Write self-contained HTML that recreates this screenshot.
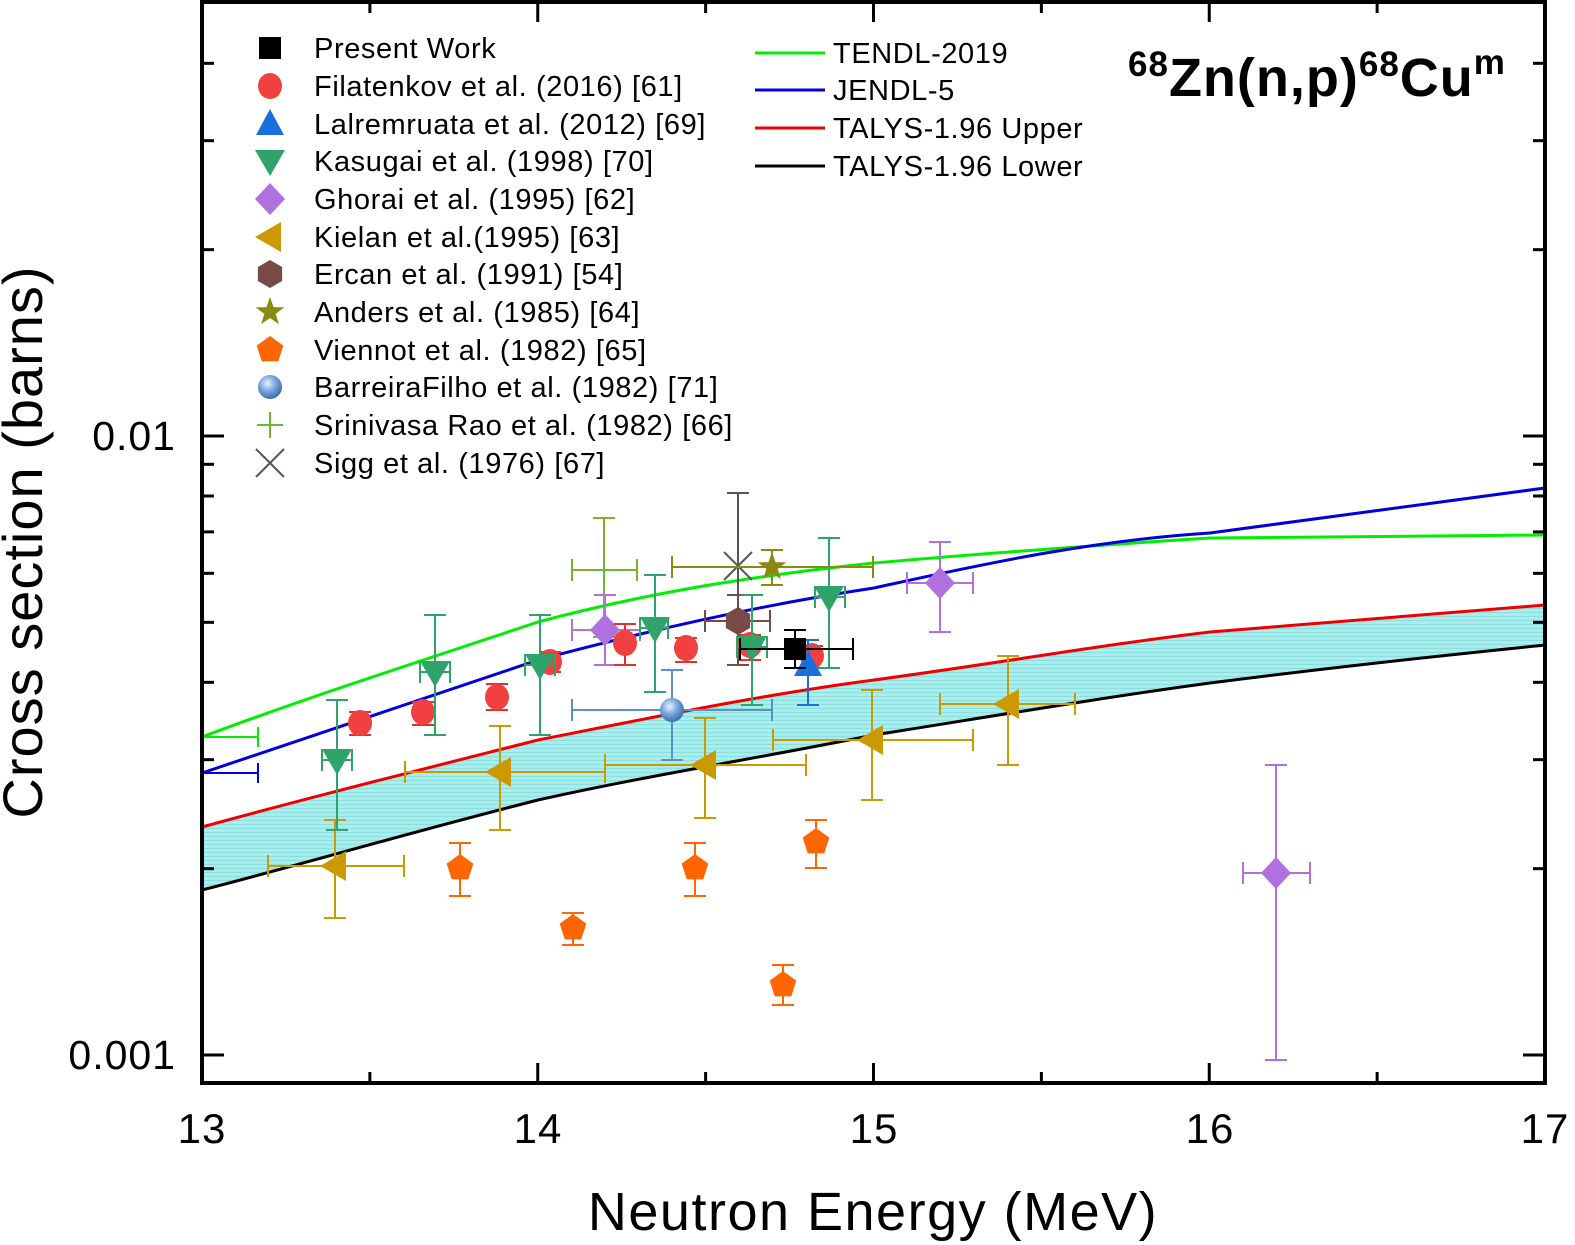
<!DOCTYPE html>
<html><head><meta charset="utf-8"><style>
html,body{margin:0;padding:0;background:#fff;}
svg{display:block;font-family:"Liberation Sans",Arial,sans-serif;}
</style></head><body>
<svg id="s" width="1575" height="1245" viewBox="0 0 1575 1245" xmlns="http://www.w3.org/2000/svg">
<defs>
<pattern id="hatch" width="4" height="4" patternUnits="userSpaceOnUse">
<rect width="4" height="4" fill="#a8eeee"/><rect width="4" height="1" fill="#8fdede"/>
</pattern>
<radialGradient id="sph" cx="0.4" cy="0.35" r="0.65"><stop offset="0" stop-color="#e8f2ff"/><stop offset="0.5" stop-color="#7aa8dc"/><stop offset="1" stop-color="#3d6fae"/></radialGradient>
</defs>
<path d="M202,827 C300,800 400,775 538,740 C650,718 760,695 874,680 C1000,663 1100,645 1210,632 C1350,620 1450,612 1545,605 L1545,645 C1450,655 1350,665 1210,683 C1100,698 1000,715 874,735 C760,758 650,775 538,800 C400,835 300,865 202,890 Z" fill="url(#hatch)"/>
<g fill="none" stroke-width="3">
<path d="M202,737 C300,700 400,668 538,622 C650,592 760,575 874,563 C1000,552 1100,545 1210,538 C1350,537 1450,536 1545,535" stroke="#00ee00"/>
<path d="M202,773 C300,740 420,700 538,660 C650,630 760,605 874,588 C1000,560 1100,540 1210,533 C1350,515 1450,500 1545,488" stroke="#0000dd"/>
<path d="M202,827 C300,800 400,775 538,740 C650,718 760,695 874,680 C1000,663 1100,645 1210,632 C1350,620 1450,612 1545,605" stroke="#ee0000"/>
<path d="M202,890 C300,865 400,835 538,800 C650,775 760,758 874,735 C1000,715 1100,698 1210,683 C1350,665 1450,655 1545,645" stroke="#000"/>
</g>
<g stroke-width="2" fill="none">
<path d="M202,737H258M258,727V747" stroke="#00ee00"/>
<path d="M202,773H258M258,763V783" stroke="#0000dd"/>
</g>
<g id="pts"></g>
<rect x="202" y="2" width="1343" height="1081" fill="none" stroke="#000" stroke-width="4"/>
<g id="ticks" stroke="#000" stroke-width="3"></g>
<g font-size="41" text-anchor="end" fill="#000" letter-spacing="1">
<text x="176" y="450">0.01</text>
<text x="176" y="1069">0.001</text>
</g>
<g font-size="42" text-anchor="middle" fill="#000" letter-spacing="1">
<text x="202" y="1143">13</text><text x="538" y="1143">14</text><text x="874" y="1143">15</text><text x="1210" y="1143">16</text><text x="1545" y="1143">17</text>
</g>
<text x="873" y="1230" font-size="54" text-anchor="middle" letter-spacing="1.5">Neutron Energy (MeV)</text>
<text transform="translate(42,542) rotate(-90)" font-size="56" text-anchor="middle" letter-spacing="1">Cross section (barns)</text>
<text x="1128" y="96" font-size="54" font-weight="bold" letter-spacing="1"><tspan font-size="35" dy="-20">68</tspan><tspan dy="20">Zn(n,p)</tspan><tspan font-size="35" dy="-20">68</tspan><tspan dy="20">Cu</tspan><tspan font-size="35" dy="-22">m</tspan></text>
<g font-size="29" fill="#000" letter-spacing="0.6">
<text x="314" y="58">Present Work</text>
<text x="314" y="96">Filatenkov et al. (2016) [61]</text>
<text x="314" y="134">Lalremruata et al. (2012) [69]</text>
<text x="314" y="171">Kasugai et al. (1998) [70]</text>
<text x="314" y="209">Ghorai et al. (1995) [62]</text>
<text x="314" y="247">Kielan et al.(1995) [63]</text>
<text x="314" y="284">Ercan et al. (1991) [54]</text>
<text x="314" y="322">Anders et al. (1985) [64]</text>
<text x="314" y="360">Viennot et al. (1982) [65]</text>
<text x="314" y="397">BarreiraFilho et al. (1982) [71]</text>
<text x="314" y="435">Srinivasa Rao et al. (1982) [66]</text>
<text x="314" y="473">Sigg et al. (1976) [67]</text>
<text x="833" y="63">TENDL-2019</text>
<text x="833" y="100">JENDL-5</text>
<text x="833" y="138">TALYS-1.96 Upper</text>
<text x="833" y="176">TALYS-1.96 Lower</text>
</g>
<g stroke-width="3">
<line x1="755" y1="53" x2="825" y2="53" stroke="#00ee00"/>
<line x1="755" y1="90" x2="825" y2="90" stroke="#0000dd"/>
<line x1="755" y1="128" x2="825" y2="128" stroke="#ee0000"/>
<line x1="755" y1="166" x2="825" y2="166" stroke="#000"/>
</g>
<g id="leg"></g>
</svg>
<script>
const NS="http://www.w3.org/2000/svg";
function el(p,t,a){const e=document.createElementNS(NS,t);for(const k in a)e.setAttribute(k,a[k]);p.appendChild(e);return e;}
const T=document.getElementById('ticks');
function ly(v){return 436-619*Math.log10(v/0.01);}
[0.002,0.003,0.004,0.005,0.006,0.007,0.008,0.009,0.02,0.03,0.04].forEach(v=>{const y=ly(v);el(T,'line',{x1:202,x2:214,y1:y,y2:y});el(T,'line',{x1:1533,x2:1545,y1:y,y2:y});});
[0.001,0.01].forEach(v=>{const y=ly(v);el(T,'line',{x1:202,x2:224,y1:y,y2:y});el(T,'line',{x1:1523,x2:1545,y1:y,y2:y});});
for(let e=13;e<=17;e+=0.5){const x=202+(e-13)*335.75;const L=(e%1==0)?20:11;el(T,'line',{x1:x,x2:x,y1:1083,y2:1083-L});el(T,'line',{x1:x,x2:x,y1:2,y2:2+L});}
const P=document.getElementById('pts');
function err(g,c,x,y,yl,yh,xl,xh){const a={stroke:c,'stroke-width':2,fill:'none'};
 if(yl!=null){el(g,'line',Object.assign({x1:x,x2:x,y1:yl,y2:yh},a));el(g,'line',Object.assign({x1:x-11,x2:x+11,y1:yl,y2:yl},a));el(g,'line',Object.assign({x1:x-11,x2:x+11,y1:yh,y2:yh},a));}
 if(xl!=null){el(g,'line',Object.assign({x1:xl,x2:xh,y1:y,y2:y},a));el(g,'line',Object.assign({x1:xl,x2:xl,y1:y-11,y2:y+11},a));el(g,'line',Object.assign({x1:xh,x2:xh,y1:y-11,y2:y+11},a));}}
function poly(g,c,pts){el(g,'polygon',{points:pts.map(p=>p.join(',')).join(' '),fill:c});}
function mk(g,type,x,y){
 switch(type){
 case 'sq':el(g,'rect',{x:x-11,y:y-11,width:22,height:22,fill:'#000'});break;
 case 'ci':el(g,'ellipse',{cx:x,cy:y,rx:12,ry:13,fill:'#f04040'});break;
 case 'tu':poly(g,'#1a6fdc',[[x,y-15],[x-14,y+11],[x+14,y+11]]);break;
 case 'td':poly(g,'#2ea36a',[[x,y+15],[x-15,y-11],[x+15,y-11]]);break;
 case 'di':poly(g,'#b070dd',[[x,y-16],[x+15,y],[x,y+16],[x-15,y]]);break;
 case 'tl':poly(g,'#cc9900',[[x-15,y],[x+11,y-15],[x+11,y+15]]);break;
 case 'hx':{const p=[];for(let i=0;i<6;i++){const a=Math.PI/3*i+Math.PI/2;p.push([x+14*Math.cos(a),y+14*Math.sin(a)]);}poly(g,'#7a4a48',p);}break;
 case 'st':{const p=[];for(let i=0;i<10;i++){const r=i%2?6:15;const a=-Math.PI/2+i*Math.PI/5;p.push([x+r*Math.cos(a),y+r*Math.sin(a)]);}poly(g,'#8a8a10',p);}break;
 case 'pe':{const p=[];for(let i=0;i<5;i++){const a=-Math.PI/2+i*2*Math.PI/5;p.push([x+14*Math.cos(a),y+14*Math.sin(a)]);}poly(g,'#ff6600',p);}break;
 case 'sp':el(g,'circle',{cx:x,cy:y,r:12,fill:'url(#sph)'});break;
 case 'pl':el(g,'path',{d:`M${x-13},${y}H${x+13}M${x},${y-13}V${y+13}`,stroke:'#6cb830','stroke-width':2});break;
 case 'x':el(g,'path',{d:`M${x-14},${y-14}L${x+14},${y+14}M${x+14},${y-14}L${x-14},${y+14}`,stroke:'#555','stroke-width':2});break;
 }}
function D(type,c,x,y,yl,yh,xl,xh){err(P,c,x,y,yl,yh,xl,xh);mk(P,type,x,y);}
[[335,866,820,918,268,404],[500,772,726,830,405,605],[705,765,718,818,605,806],[872,740,690,800,773,973],[1008,704,656,765,940,1075]].forEach(d=>D('tl','#cc9900',...d));
[[460,868,843,896],[573,928,913,945],[695,868,843,896],[783,985,965,1005],[816,842,820,868]].forEach(d=>D('pe','#ff6600',...d));
D('sp','#5b8fc8',672,710,670,760,572,772);
D('pl','#7cb32a',604,570,518,637,572,637);
D('x','#555',738,566,493,665);
D('st','#8a8a10',772,567,550,585,672,873);
D('hx','#7a4a48',738,621,595,665,705,770);
[[605,630,595,665,572,640],[940,583,542,632,907,973],[1276,873,765,1060,1243,1310]].forEach(d=>D('di','#b070dd',...d));
[[360,723,712,735],[423,712,702,725],[497,697,684,710],[550,662,652,672],[625,643,624,665],[686,648,638,662],[750,645,635,660],[812,656,646,668]].forEach(d=>D('ci','#e03030',...d));
[[337,760,700,830,322,352],[435,672,615,735,420,450],[540,665,615,735,525,555],[655,628,575,692,640,668],[752,647,595,705,737,767],[829,597,538,668,815,845]].forEach(d=>D('td','#2ea36a',...d));
D('tu','#1a6fdc',808,665,640,705);
D('sq','#000',795,649,630,668,740,853);
const G=document.getElementById('leg');
['sq','ci','tu','td','di','tl','hx','st','pe','sp','pl','x'].forEach((t,i)=>mk(G,t,270,[48,86,124,161,199,237,274,312,350,387,425,463][i]));
</script>
</body></html>
